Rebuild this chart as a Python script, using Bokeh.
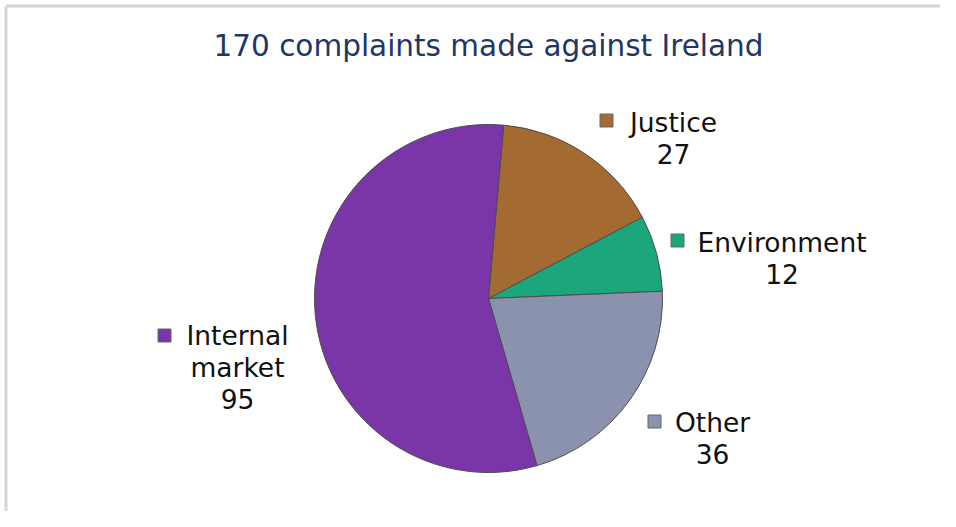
import numpy as np
from bokeh.plotting import figure
from bokeh.models import Range1d, ColumnDataSource
from bokeh.core.properties import value
from bokeh.embed import file_html
from bokeh.resources import INLINE

# ---- data ----
categories = ["Justice", "Environment", "Other", "Internal market"]
counts = [27, 12, 36, 95]
colors = ["#A36A31", "#1BA77B", "#8A92AE", "#7A35A8"]
title_text = "170 complaints made against Ireland"

# ---- layout (image pixel coordinates) ----
W, H = 940, 511


def Y(iy):
    return H - iy


p = figure(width=W, height=H, output_backend="svg", toolbar_location=None,
           x_range=Range1d(0, W), y_range=Range1d(0, H), min_border=0)
p.axis.visible = False
p.grid.visible = False
p.outline_line_color = None
p.background_fill_color = "white"
p.border_fill_color = "white"

# frame lines (left and top)
p.segment(x0=[5.5, 5.5], y0=[Y(5.5), Y(5.5)], x1=[5.5, W], y1=[Y(H), Y(5.5)],
          line_color="#d6d6d6", line_width=3)

# pie
total = sum(counts)
offset = np.deg2rad(5)
cum = np.cumsum([0] + counts)
start = np.pi / 2 - offset - cum[:-1] / total * 2 * np.pi
end = np.pi / 2 - offset - cum[1:] / total * 2 * np.pi
src = ColumnDataSource(dict(start=start, end=end, color=colors, cat=categories))
p.wedge(x=488, y=Y(298), radius=174, start_angle="start", end_angle="end",
        direction="clock", fill_color="color", line_color="#4d4d4d",
        line_width=1, source=src)

# title
p.text(x=[488], y=[Y(45)], text=[title_text], text_font=value("DejaVu Sans"),
       text_font_size="29.5px", text_color="#1F3768", text_align="center",
       text_baseline="middle")

# labels
text_centers = {"Justice": (673, 121.5), "Environment": (781.5, 241.5),
                "Other": (712, 421.5), "Internal market": (237, 335)}
marker_centers = {"Justice": (606, 120), "Environment": (677, 240),
                  "Other": (654, 421), "Internal market": (164, 335)}
line_gap = 31.5

lx, ly, lt = [], [], []
mx, my, mc = [], [], []
for cat, cnt, col in zip(categories, counts, colors):
    lines = cat.split(" ") + [str(cnt)]
    cx, cy = text_centers[cat]
    for i, ln in enumerate(lines):
        lx.append(cx)
        ly.append(Y(cy + i * line_gap))
        lt.append(ln)
    m = marker_centers[cat]
    mx.append(m[0])
    my.append(Y(m[1]))
    mc.append(col)

p.rect(x=mx, y=my, width=13, height=13, fill_color=mc, line_color="#666666",
       line_width=1)
p.text(x=lx, y=ly, text=lt, text_font=value("DejaVu Sans"),
       text_font_size="26.5px", text_color="#111111", text_align="center",
       text_baseline="middle")

open("out.html", "w").write(file_html(p, INLINE))
